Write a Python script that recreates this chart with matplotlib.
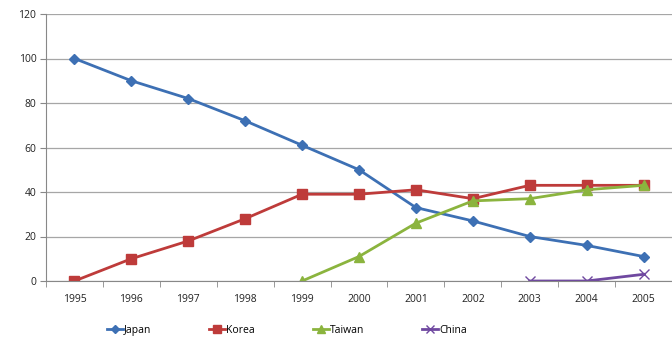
import matplotlib.pyplot as plt
import numpy as np

years = ['1995', '1996', '1997', '1998', '1999', '2000', '2001', '2002', '2003', '2004', '2005']
japan = [100, 90, 82, 72, 61, 50, 33, 27, 20, 16, 11]
korea = [0, 10, 18, 28, 39, 39, 41, 37, 43, 43, 43]
taiwan = [None, None, None, None, 0, 11, 26, 36, 37, 41, 43]
china = [None, None, None, None, None, None, None, None, 0, 0, 3]

plt.rcParams['font.family'] = ['Open Sans', 'DejaVu Sans']

fig = plt.figure(figsize=(6.72, 3.49), dpi=100)
ax = fig.add_axes([46 / 672, 1 - 281 / 349, 1 - 46 / 672, 267 / 349])

x = np.arange(len(years))

def to_arr(vals):
    return np.array([np.nan if v is None else v for v in vals], dtype=float)

ax.plot(x, to_arr(japan), color='#3D70B4', lw=2, marker='D', ms=5, label='Japan')
ax.plot(x, to_arr(korea), color='#BE3B3A', lw=2, marker='s', ms=6.5, label='Korea')
ax.plot(x, to_arr(taiwan), color='#8BB43E', lw=2, marker='^', ms=6.5, label='Taiwan')
ax.plot(x, to_arr(china), color='#6F48A0', lw=2, marker='x', ms=7, mew=1, label='China')

ax.set_xlim(-0.5, len(years) - 0.5)
ax.set_ylim(0, 120)
ax.set_yticks(range(0, 121, 20))
ax.yaxis.grid(True, color='#a6a6a6', lw=0.9)
ax.set_axisbelow(True)

ax.set_xticks(x)
ax.set_xticklabels(years)
ax.set_xticks(np.arange(-0.5, len(years), 1), minor=True)
ax.tick_params(axis='x', which='major', length=0, pad=9, labelsize=7.5, colors='#222222')
ax.tick_params(axis='x', which='minor', length=4, color='#888888')
ax.tick_params(axis='y', length=4, color='#888888', labelsize=7.5, labelcolor='#222222', pad=3)

for s in ['top', 'right']:
    ax.spines[s].set_visible(False)
ax.spines['left'].set_color('#888888')
ax.spines['bottom'].set_color('#888888')

fig.legend(loc='center', bbox_to_anchor=(0.427, 0.054), ncol=4, frameon=False,
           fontsize=7.5, handlelength=1.5, handletextpad=0.1, columnspacing=5.6,
           markerscale=0.8)

fig.savefig('out.png', dpi=100)
